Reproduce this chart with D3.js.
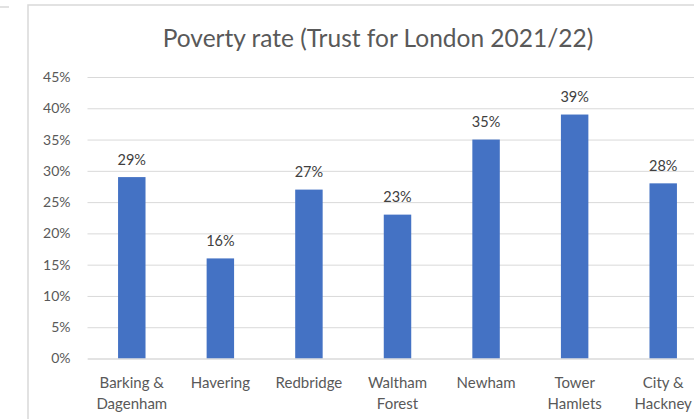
<!DOCTYPE html>
<html>
<head>
<meta charset="utf-8">
<script src="https://cdn.jsdelivr.net/npm/d3@7"></script>
<style>
  html, body { margin: 0; padding: 0; background: #ffffff; }
  svg { display: block; font-family: Lato, "Open Sans", sans-serif; }
</style>
</head>
<body>
<svg id="chart" width="694" height="419"></svg>
<script>
// Poverty rate by borough (Trust for London 2021/22)
const boroughs = [
  ["Barking &", "Dagenham"],
  ["Havering"],
  ["Redbridge"],
  ["Waltham", "Forest"],
  ["Newham"],
  ["Tower", "Hamlets"],
  ["City &", "Hackney"]
];
const povertyRate = [0.29, 0.16, 0.27, 0.23, 0.35, 0.39, 0.28];
const yTicks = [0, 0.05, 0.10, 0.15, 0.20, 0.25, 0.30, 0.35, 0.40, 0.45];
const chartTitle = "Poverty rate (Trust for London 2021/22)";

const svg = d3.select("#chart");
const textColor = "#595959";
const gridColor = "#d9d9d9";

// chart frame (extends past the right edge of the view)
svg.append("path")
  .attr("d", "M0,7H9")
  .attr("stroke", gridColor).attr("stroke-width", 1.5).attr("fill", "none");
svg.append("rect")
  .attr("x", 28).attr("y", 5).attr("width", 800).attr("height", 500)
  .attr("fill", "none").attr("stroke", gridColor).attr("stroke-width", 1.5);

const plot = { left: 87.5, right: 707.5, top: 77, bottom: 358.5 };

const x = d3.scaleBand()
  .domain(d3.range(boroughs.length))
  .range([plot.left, plot.right])
  .paddingInner(0.69)
  .paddingOuter(0.345);

const y = d3.scaleLinear()
  .domain([0, 0.45])
  .range([plot.bottom, plot.top]);

// gridlines + y tick labels
const yAxis = d3.axisLeft(y)
  .tickValues(yTicks)
  .tickFormat(d3.format(".0%"))
  .tickSize(-(plot.right - plot.left))
  .tickPadding(17);

const gy = svg.append("g")
  .attr("transform", `translate(${plot.left},0)`)
  .call(yAxis);
gy.select(".domain").remove();
gy.selectAll(".tick line").attr("stroke", gridColor).attr("stroke-width", 1);
gy.selectAll(".tick text")
  .attr("fill", textColor)
  .style("font-size", "14px")
  .style("font-family", "Lato, sans-serif");

// bars
svg.append("g").selectAll("rect")
  .data(povertyRate)
  .join("rect")
  .attr("x", (d, i) => x(i))
  .attr("y", d => y(d))
  .attr("width", x.bandwidth())
  .attr("height", d => y(0) - y(d))
  .attr("fill", "#4472c4");

// data labels
svg.append("g").selectAll("text")
  .data(povertyRate)
  .join("text")
  .attr("x", (d, i) => x(i) + x.bandwidth() / 2)
  .attr("y", d => y(d) - 12.5)
  .attr("text-anchor", "middle")
  .attr("fill", "#404040")
  .style("font-size", "14.5px")
  .text(d => d3.format(".0%")(d));

// category labels
const xAxis = d3.axisBottom(x).tickSize(0).tickFormat("");
const gx = svg.append("g")
  .attr("transform", `translate(0,${plot.bottom})`)
  .call(xAxis);
gx.select(".domain").attr("stroke", gridColor).attr("stroke-width", 1.2);

const cat = svg.append("g").selectAll("text")
  .data(boroughs)
  .join("text")
  .attr("x", (d, i) => x(i) + x.bandwidth() / 2)
  .attr("y", 388)
  .attr("text-anchor", "middle")
  .attr("fill", textColor)
  .style("font-size", "15px");
cat.selectAll("tspan")
  .data(d => d)
  .join("tspan")
  .attr("x", function () { return d3.select(this.parentNode).attr("x"); })
  .attr("dy", (d, i) => i === 0 ? 0 : 21)
  .text(d => d);

// title
svg.append("text")
  .attr("x", 378)
  .attr("y", 47)
  .attr("text-anchor", "middle")
  .attr("fill", textColor)
  .style("font-size", "24.5px")
  .text(chartTitle);
</script>
</body>
</html>
